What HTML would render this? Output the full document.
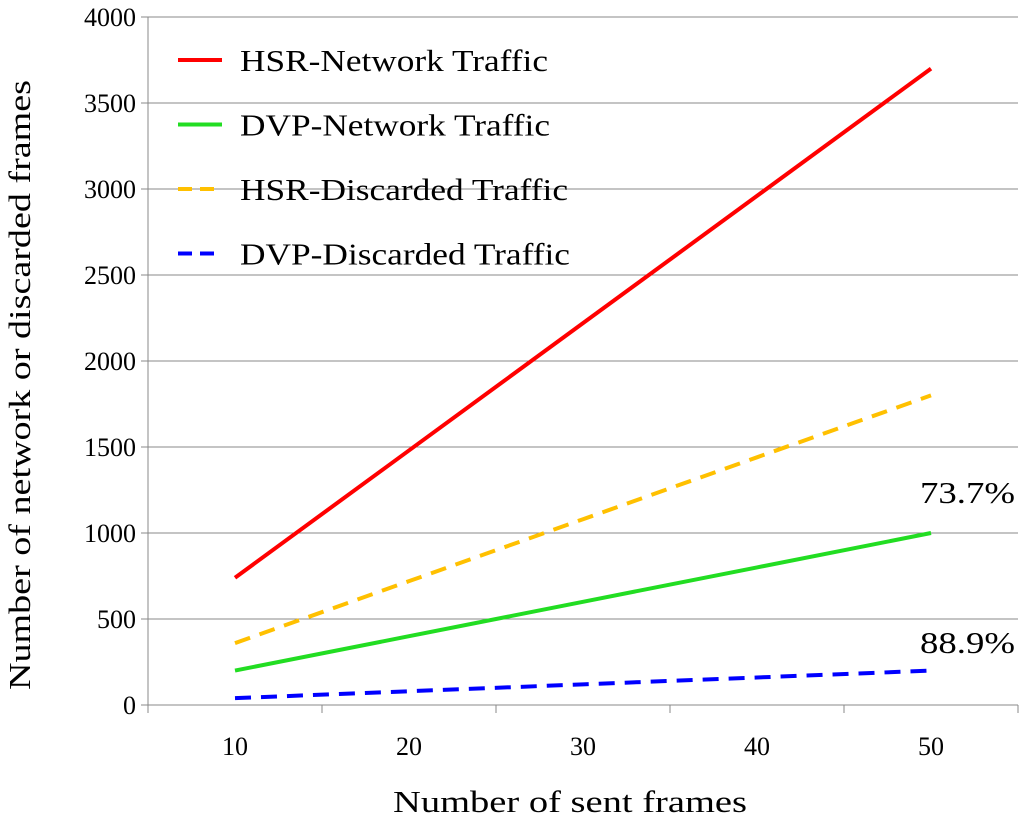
<!DOCTYPE html>
<html><head><meta charset="utf-8">
<style>
body{margin:0;background:#fff;}
svg{display:block;font-family:"Liberation Serif",serif;}
</style></head>
<body>
<svg id="chart" width="1024" height="822" xmlns="http://www.w3.org/2000/svg">
<g id="grid"></g>
<g id="axes"></g>
<g id="series"></g>
<g id="legend"></g>
<text x="393" y="812" font-size="31" textLength="354" lengthAdjust="spacingAndGlyphs">Number of sent frames</text>
<text transform="translate(30,690) rotate(-90)" font-size="31" textLength="610" lengthAdjust="spacingAndGlyphs">Number of network or discarded  frames</text>
<text x="920" y="503" font-size="31" textLength="95" lengthAdjust="spacingAndGlyphs">73.7%</text>
<text x="920" y="653" font-size="31" textLength="95" lengthAdjust="spacingAndGlyphs">88.9%</text>
</svg>
<script>
const categories=[10,20,30,40,50];
const hsrNetwork=[740,1480,2220,2960,3700];
const dvpNetwork=[200,400,600,800,1000];
const hsrDiscarded=[360,720,1080,1440,1800];
const dvpDiscarded=[40,80,120,160,200];
const yTicks=[0,500,1000,1500,2000,2500,3000,3500,4000];
const seriesNames=["HSR-Network Traffic","DVP-Network Traffic","HSR-Discarded Traffic","DVP-Discarded Traffic"];
const legendWidths=[308,310,328,330];

const NS="http://www.w3.org/2000/svg";
const X0=148,X1=1018,Y0=705,Y1=17,YMAX=4000;
const band=(X1-X0)/categories.length;
const xs=i=>X0+band*(i+0.5);
const ys=v=>Y0-(v/YMAX)*(Y0-Y1);
function mk(tag,attrs,parent){const e=document.createElementNS(NS,tag);for(const k in attrs)e.setAttribute(k,attrs[k]);parent.appendChild(e);return e;}
const grid=document.getElementById('grid'),axes=document.getElementById('axes'),series=document.getElementById('series'),legend=document.getElementById('legend');
yTicks.forEach(t=>{
  if(t>0){const g=mk('line',{x1:X0,x2:X1,y1:ys(t),y2:ys(t),stroke:'#888','stroke-width':1},grid);
  
  }
  const tk=mk('line',{x1:X0-7,x2:X0,y1:ys(t),y2:ys(t),stroke:'#888'},axes);
  
  
  const l=mk('text',{x:X0-12,y:ys(t)+9,'text-anchor':'end','font-size':26},axes);l.textContent=t;
  
  
});
const ya=mk('line',{x1:X0,x2:X0,y1:Y1,y2:Y0,stroke:'#888'},axes);


const xa=mk('line',{x1:X0,x2:X1,y1:Y0,y2:Y0,stroke:'#888'},axes);


for(let i=0;i<=categories.length;i++){
  const t=mk('line',{x1:X0+band*i,x2:X0+band*i,y1:Y0,y2:Y0+8,stroke:'#888'},axes);
  
  
}
categories.forEach((c,i)=>{
  const l=mk('text',{x:xs(i),y:755,'text-anchor':'middle','font-size':26},axes);l.textContent=c;
  
  
});
const styles=[
 {data:hsrNetwork,color:'#ff0000',dash:'',name:'hsr-network-line'},
 {data:dvpNetwork,color:'#22dd22',dash:'',name:'dvp-network-line'},
 {data:hsrDiscarded,color:'#ffc000',dash:'16,10',name:'hsr-discarded-line'},
 {data:dvpDiscarded,color:'#0000ff',dash:'16,10',name:'dvp-discarded-line'}];
styles.forEach((s,k)=>{
  const p=mk('polyline',{points:s.data.map((v,i)=>xs(i)+','+ys(v)).join(' '),fill:'none',stroke:s.color,'stroke-width':4,'stroke-dasharray':s.dash},series);
  
  
  const ly=60+k*64.5;
  const ll=mk('line',{x1:178,x2:222,y1:ly,y2:ly,stroke:s.color,'stroke-width':4,'stroke-dasharray':s.dash?'14,8':''},legend);
  
  
  const lt=mk('text',{x:240,y:ly+11,'font-size':31,textLength:legendWidths[k],lengthAdjust:'spacingAndGlyphs'},legend);lt.textContent=seriesNames[k];
  
  
});
</script>
</body></html>
